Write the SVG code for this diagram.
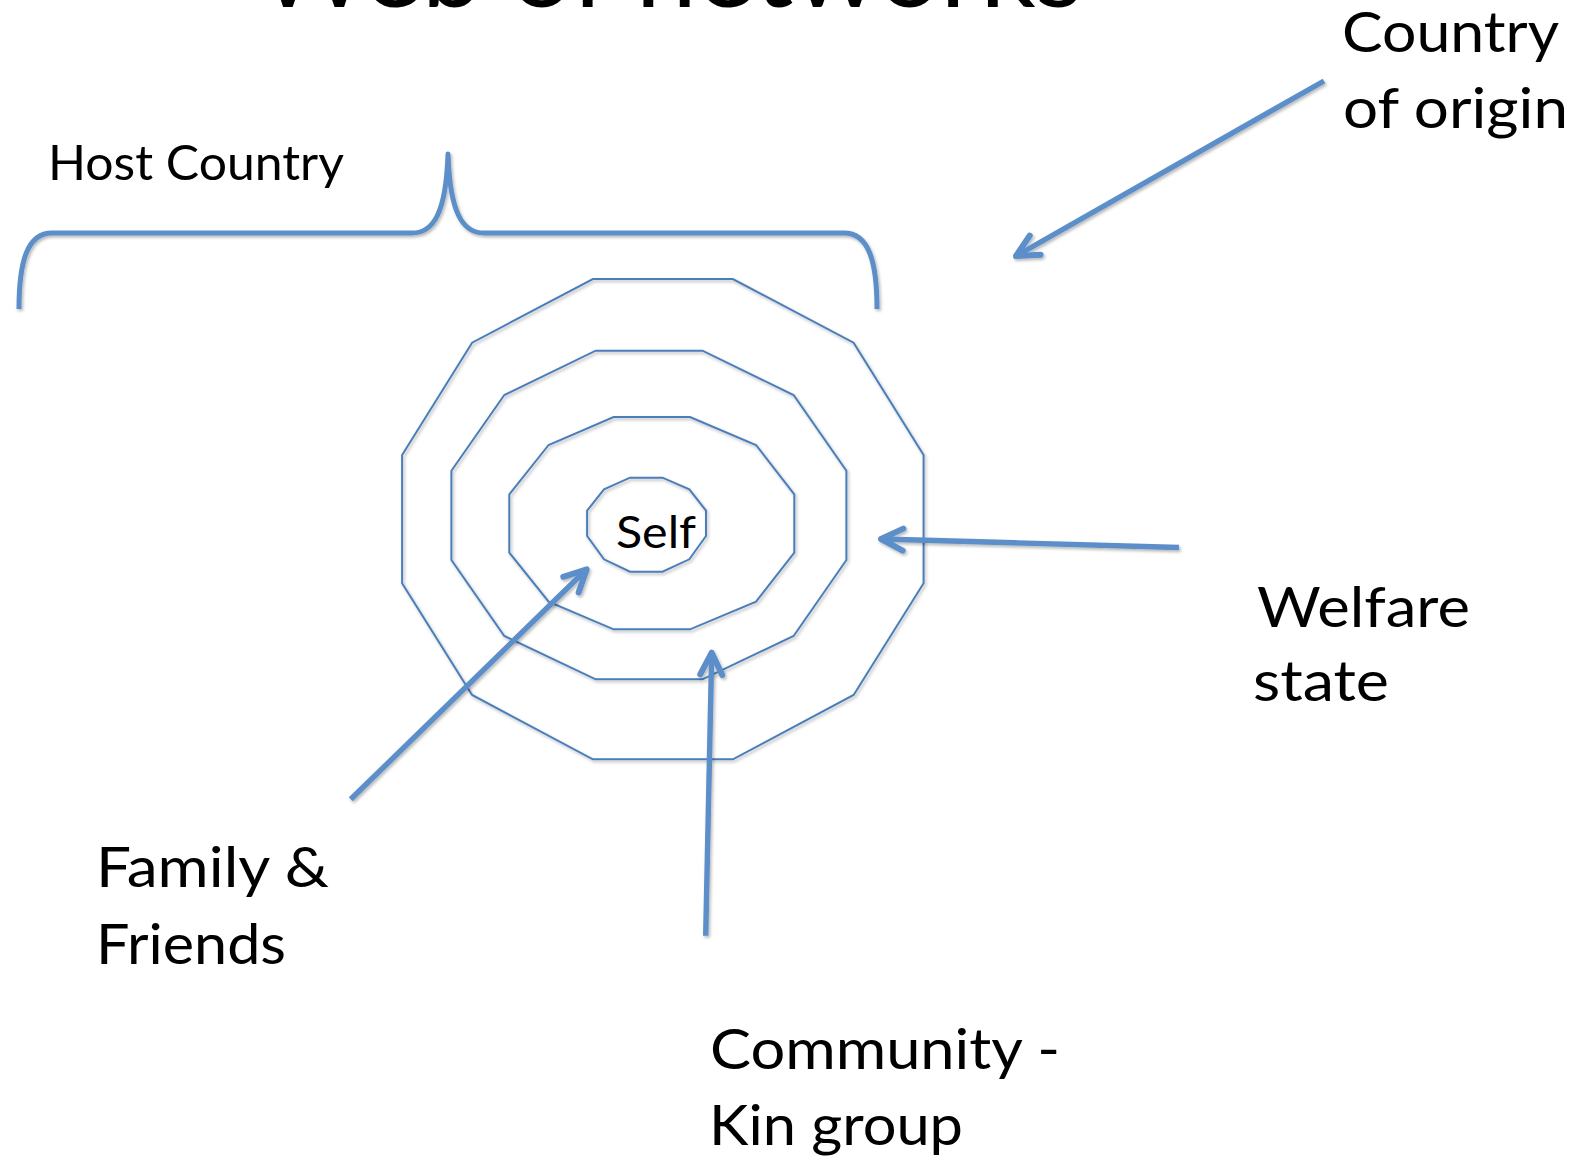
<svg xmlns="http://www.w3.org/2000/svg" width="1586" height="1157" viewBox="0 0 1586 1157">
  <defs>
    <style>
      .label { font-family: "Lato", "Open Sans", "Liberation Sans", sans-serif; fill: #000; }
      .ring { fill: none; stroke: #4a7ebb; stroke-width: 2; stroke-linejoin: miter; }
      .brace { fill: none; stroke: #5b8fc9; stroke-width: 5; stroke-linecap: butt; stroke-linejoin: round; }
      .conn { fill: none; stroke: #5b8fc9; stroke-width: 5.4; stroke-linecap: butt; }
      .head { fill: none; stroke: #5b8fc9; stroke-width: 6; stroke-linecap: round; stroke-linejoin: round; }
    </style>
    <filter id="shadow" x="-10%" y="-10%" width="120%" height="120%">
      <feDropShadow dx="1.5" dy="2" stdDeviation="1.4" flood-color="#000" flood-opacity="0.28"/>
    </filter>
    <marker id="arrow" markerUnits="userSpaceOnUse" viewBox="-28 -15 32 30" refX="0" refY="0"
            markerWidth="32" markerHeight="30" orient="auto" overflow="visible">
      <path class="head" d="M-22,-11 L0,0 L-22,11"/>
    </marker>
  </defs>

  <rect width="1586" height="1157" fill="#fff"/>

  <!-- slide title, mostly above the visible area -->
  <text class="label" x="257" y="6.5" font-size="105" textLength="826" lengthAdjust="spacingAndGlyphs">Web of networks</text>

  <!-- concentric network rings -->
  <g id="ring-host" filter="url(#shadow)">
    <polygon class="ring" points="592.9,279 732.9,279 853.6,342.7 923.6,455 923.6,583.3 853.6,695 732.9,759.3 592.9,759.3 472.1,695 402.1,583.3 402.1,455 472.1,342.7"/>
  </g>
  <g id="ring-community" filter="url(#shadow)">
    <polygon class="ring" points="595.7,350.7 702.5,350.7 793.6,395 846.4,470.7 846.4,560 793.6,636 702.5,679.3 595.7,679.3 504.3,636 451.4,560 451.4,470.7 504.3,395"/>
  </g>
  <g id="ring-family" filter="url(#shadow)">
    <polygon class="ring" points="613.6,417 690,417 756,445 794.3,494.3 794.3,552.7 756,601.7 690,629.3 613.6,629.3 548.6,601.7 509.3,552.7 509.3,494.3 548.6,445"/>
  </g>
  <g id="self" filter="url(#shadow)">
    <polygon class="ring" points="630,477.7 662.5,477.7 689.3,489.3 706,510.7 706,536 689.3,559.3 662.5,571.7 630,571.7 604,559.3 587.1,536 587.1,510.7 604,489.3"/>
  </g>
  <text class="label" x="616" y="548" font-size="45" textLength="80" lengthAdjust="spacingAndGlyphs">Self</text>

  <!-- curly brace over the host-country rings -->
  <g id="host-country">
    <path class="brace" filter="url(#shadow)" d="M19,309 C19,262 27,233 52,233 L412,233 C433,233 446,214 448,154 C450,214 463,233 484,233 L844,233 C869,233 877,262 877,309"/>
    <text class="label" x="48" y="180" font-size="48" textLength="296" lengthAdjust="spacingAndGlyphs">Host Country</text>
  </g>

  <!-- outer labels -->
  <g id="country-of-origin">
    <text class="label" x="1342" y="52" font-size="57" textLength="217" lengthAdjust="spacingAndGlyphs">Country</text>
    <text class="label" x="1343" y="128" font-size="57" textLength="225" lengthAdjust="spacingAndGlyphs">of origin</text>
  </g>
  <g id="welfare-state">
    <text class="label" x="1257" y="627" font-size="57" textLength="213" lengthAdjust="spacingAndGlyphs">Welfare</text>
    <text class="label" x="1253" y="701" font-size="57" textLength="136" lengthAdjust="spacingAndGlyphs">state</text>
  </g>
  <g id="family-friends">
    <text class="label" x="96" y="887" font-size="57" textLength="233" lengthAdjust="spacingAndGlyphs">Family &amp;</text>
    <text class="label" x="96" y="964" font-size="57" textLength="190" lengthAdjust="spacingAndGlyphs">Friends</text>
  </g>
  <g id="community-kin">
    <text class="label" x="710" y="1069" font-size="57" textLength="350" lengthAdjust="spacingAndGlyphs">Community -</text>
    <text class="label" x="709" y="1145" font-size="57" textLength="254" lengthAdjust="spacingAndGlyphs">Kin group</text>
  </g>

  <!-- pointer arrows -->
  <g id="connectors" filter="url(#shadow)">
    <line class="conn" x1="1324" y1="81" x2="1016" y2="256" marker-end="url(#arrow)"/>
    <line class="conn" x1="1179" y1="547.5" x2="881" y2="539" marker-end="url(#arrow)"/>
    <line class="conn" x1="350.7" y1="799.3" x2="586.7" y2="569.3" marker-end="url(#arrow)"/>
    <line class="conn" x1="705.7" y1="935.7" x2="711.7" y2="652.7" marker-end="url(#arrow)"/>
  </g>
</svg>
